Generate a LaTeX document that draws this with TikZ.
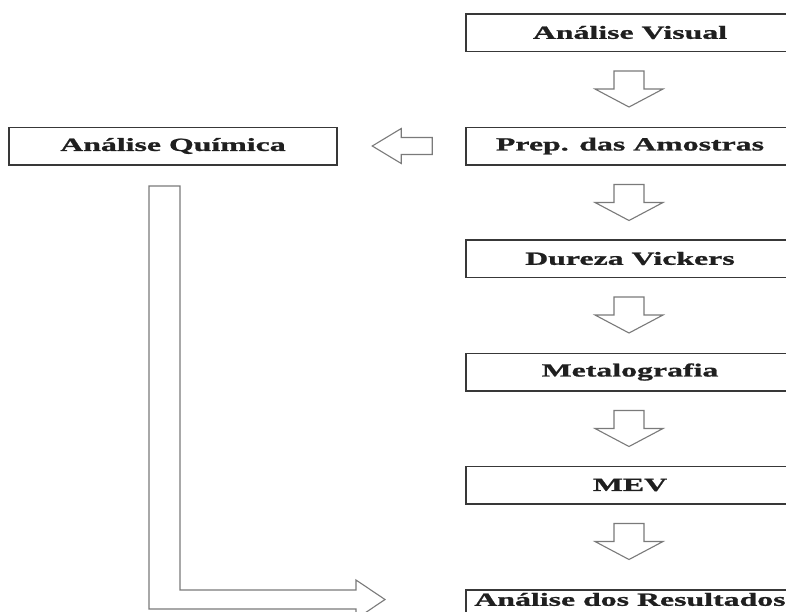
\documentclass[tikz,border=0pt]{standalone}
\usepackage{fontspec}
\newfontfamily\boxfont{Liberation Serif}[FakeStretch=1.72, BoldFeatures={FakeBold=1.2}]
\usetikzlibrary{calc}
\tikzset{
  stage/.style={draw=black!78, line width=1.5pt, fill=white, inner sep=0pt,
    minimum width=328pt, minimum height=37.5pt,
    font=\boxfont\bfseries\fontsize{18.5}{20}\selectfont, text=black!88},
  blk/.style={draw=black!52, line width=1.1pt, fill=white, line join=miter}
}
\begin{document}
\begin{tikzpicture}[x=1pt,y=-1pt]
\useasboundingbox (0,0) rectangle (786,611);
\begin{scope}
\clip (0,0) rectangle (786,611);
\fill[white] (0,0) rectangle (786,611);
\node[stage] (vis) at (630,32.5) {Análise Visual};
\node[stage] (prep) at (630,146) {Prep. das Amostras};
\node[stage] (dur) at (630,258.5) {Dureza Vickers};
\node[stage] (met) at (630,372) {Metalografia};
\node[stage] (mev) at (630,485) {MEV};
\node[stage, anchor=north, minimum height=0pt, inner ysep=3pt,
  text height=13pt, text depth=21.5pt] (res) at (630,589) {Análise dos Resultados};
\node[stage] (quim) at (173,146) {Análise Química};
% down block arrows
\foreach \a/\b in {vis/prep, prep/dur, dur/met, met/mev, mev/res}{
  \coordinate (t) at ($(\a.south)+(-1,19)$);
  \draw[blk] (t) ++(-15,0) -- ++(30,0) -- ++(0,18) -- ++(19,0) -- ++(-34,18)
    -- ++(-34,-18) -- ++(19,0) -- cycle;
}
% left block arrow
\coordinate (l) at ($(prep.west)+(-33,0)$);
\draw[blk] (l) ++(0,-8.5) -- ++(-31,0) -- ++(0,-9) -- ++(-29,17.5) -- ++(29,17.5)
  -- ++(0,-9) -- ++(31,0) -- cycle;
% L-shaped block arrow
\coordinate (q) at ($(quim.south)+(-24,20.5)$);
\draw[blk] (q) -- ++(31,0) -- ++(0,404) -- ++(176,0) -- ++(0,-10) -- ++(29,19.5)
  -- ++(-29,19.5) -- ++(0,-10) -- ++(-207,0) -- cycle;
\end{scope}
\end{tikzpicture}
\end{document}
